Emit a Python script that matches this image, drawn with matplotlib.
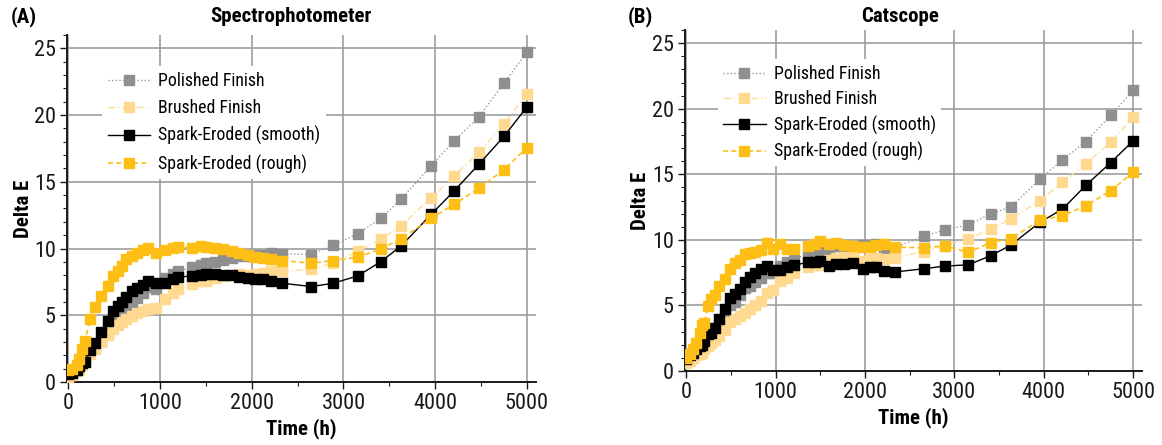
import matplotlib
matplotlib.use("Agg")
import matplotlib.pyplot as plt
from matplotlib.ticker import MultipleLocator

plt.rcParams['font.family'] = ['Roboto Condensed', 'Archivo Narrow', 'DejaVu Sans']

# ---- Spectrophotometer readings ----
time_a = [0, 40, 90, 120, 150, 180, 240, 285, 355, 430,
          490, 540, 580, 630, 690, 750, 810, 870, 950, 1050,
          1140, 1200, 1350, 1445, 1505, 1600, 1690, 1785, 1865, 1960,
          2040, 2120, 2205, 2330, 2650, 2890, 3155, 3405, 3630, 3955,
          4205, 4475, 4750, 5000]
polished_a = [0.6, 0.7, 0.9, 1.25, 1.5, 1.75, 2.4, 2.6, 3.1, 3.7,
              4.35, 4.9, 5.2, 5.6, 5.95, 6.3, 6.7, 7.1, 7.0, 7.8,
              8.1, 8.3, 8.6, 8.8, 8.95, 9.0, 9.15, 9.3, 9.45, 9.45,
              9.5, 9.55, 9.7, 9.6, 9.55, 10.25, 11.1, 12.25, 13.7, 16.2,
              18.05, 19.85, 22.4, 24.7]
brushed_a = [0.4, 0.5, 0.8, 1.0, 1.3, 1.6, 2.1, 2.5, 3.0, 3.55,
             3.95, 4.3, 4.5, 4.75, 4.95, 5.15, 5.3, 5.45, 5.55, 6.2,
             6.65, 6.95, 7.35, 7.6, 7.6, 7.8, 7.95, 8.05, 8.1, 8.0,
             8.1, 8.2, 8.3, 8.3, 8.45, 8.95, 9.8, 10.7, 11.7, 13.8,
             15.4, 17.2, 19.3, 21.6]
smooth_a = [0.6, 0.7, 0.9, 1.2, 1.4, 1.5, 2.4, 2.95, 3.75, 4.6,
            5.35, 5.7, 6.0, 6.4, 6.8, 7.05, 7.3, 7.6, 7.4, 7.45,
            7.7, 7.85, 7.95, 8.05, 8.1, 8.1, 8.05, 8.0, 7.9, 7.8,
            7.75, 7.7, 7.55, 7.4, 7.15, 7.4, 7.95, 9.0, 10.2, 12.55,
            14.3, 16.3, 18.4, 20.6]
rough_a = [0.9, 1.0, 1.3, 1.7, 2.5, 3.1, 4.75, 5.6, 6.45, 7.2,
           7.95, 8.3, 8.7, 9.2, 9.45, 9.7, 9.9, 10.05, 9.65, 9.9,
           10.05, 10.1, 10.05, 10.2, 10.15, 10.05, 9.95, 9.8, 9.7, 9.5,
           9.4, 9.3, 9.2, 9.1, 8.9, 9.1, 9.35, 9.95, 10.75, 12.25,
           13.3, 14.5, 15.9, 17.55]

# ---- Catscope readings ----
time_b = [0, 40, 75, 110, 150, 170, 200, 245, 280, 320,
          360, 430, 490, 545, 600, 655, 710, 770, 835, 900,
          965, 1050, 1130, 1200, 1360, 1440, 1500, 1600, 1670, 1765,
          1870, 1980, 2050, 2120, 2210, 2330, 2660, 2890, 3155, 3410,
          3630, 3960, 4210, 4470, 4750, 5000]
polished_b = [0.9, 1.1, 1.4, 1.8, 1.9, 2.0, 2.3, 2.6, 3.0, 3.1,
              3.5, 4.3, 5.0, 5.3, 5.8, 6.3, 6.5, 6.8, 7.1, 7.5,
              7.45, 8.0, 8.3, 8.5, 8.95, 9.2, 9.1, 9.2, 9.55, 9.35,
              9.3, 9.6, 9.55, 9.65, 9.25, 9.4, 10.3, 10.75, 11.15, 12.0,
              12.5, 14.65, 16.1, 17.5, 19.5, 21.4]
brushed_b = [0.6, 0.8, 1.0, 1.2, 1.3, 1.4, 1.7, 1.9, 2.15, 2.4,
             2.65, 3.15, 3.7, 3.95, 4.2, 4.45, 4.75, 5.05, 5.35, 5.95,
             6.2, 6.9, 7.1, 7.45, 7.9, 8.1, 8.05, 8.45, 8.65, 8.7,
             8.8, 8.4, 8.55, 8.65, 8.55, 8.65, 9.1, 9.55, 10.1, 10.8,
             11.6, 13.0, 14.4, 15.8, 17.45, 19.35]
smooth_b = [0.9, 1.2, 1.4, 1.7, 1.9, 2.0, 2.3, 2.8, 2.9, 3.3,
            4.0, 4.75, 5.6, 5.9, 6.25, 6.8, 7.2, 7.45, 7.75, 8.0,
            7.7, 7.7, 7.95, 8.05, 8.3, 8.35, 8.4, 8.0, 8.15, 8.15,
            8.25, 7.8, 7.95, 7.95, 7.6, 7.55, 7.8, 8.0, 8.1, 8.8,
            9.6, 11.35, 12.35, 14.15, 15.9, 17.55]
rough_b = [1.0, 1.3, 1.65, 2.1, 2.9, 3.5, 3.65, 4.95, 5.5, 5.8,
           6.5, 7.05, 7.8, 8.25, 8.5, 8.9, 9.0, 9.1, 9.2, 9.8,
           9.3, 9.7, 9.3, 9.3, 9.55, 9.65, 9.9, 9.7, 9.75, 9.6,
           9.55, 9.45, 9.45, 9.6, 9.65, 9.45, 9.4, 9.55, 9.05, 9.8,
           10.1, 11.5, 11.85, 12.6, 13.75, 15.15]

series_names = ["Polished Finish", "Brushed Finish",
                "Spark-Eroded (smooth)", "Spark-Eroded (rough)"]
series_styles = [
    dict(color="#9a9a9a", mfc="#8f8f8f", mec="#8f8f8f", ls=(0, (1, 1.6)), lw=1.0),
    dict(color="#ffdc98", mfc="#ffd98f", mec="#ffd98f", ls=(0, (5, 2, 1, 2)), lw=1.0),
    dict(color="#000000", mfc="#000000", mec="#000000", ls="-", lw=1.0),
    dict(color="#fdbf16", mfc="#fdbf16", mec="#fdbf16", ls=(0, (3, 2)), lw=1.2),
]

fig = plt.figure(figsize=(11.62, 4.45), dpi=100)
ax_a = fig.add_axes([0.0577, 0.1416, 0.4036, 0.7798])
ax_b = fig.add_axes([0.5895, 0.1663, 0.3933, 0.7660])

panels = [
    (ax_a, time_a, [polished_a, brushed_a, smooth_a, rough_a], (0.056, 0.935), 0.52),
    (ax_b, time_b, [polished_b, brushed_b, smooth_b, rough_b], (0.052, 0.94), 0.41),
]

for ax, t, ys, leg_anchor, spacing in panels:
    for name, y, st in zip(series_names, ys, series_styles):
        ax.plot(t, y, marker="s", markersize=6.5, label=name,
                color=st["color"], markerfacecolor=st["mfc"],
                markeredgecolor=st["mec"], linestyle=st["ls"],
                linewidth=st["lw"], zorder=3)
    ax.set_xlim(-15, 5100)
    ax.set_ylim(0, 26)
    ax.xaxis.set_major_locator(MultipleLocator(1000))
    ax.xaxis.set_minor_locator(MultipleLocator(500))
    ax.yaxis.set_major_locator(MultipleLocator(5))
    ax.yaxis.set_minor_locator(MultipleLocator(1))
    ax.grid(True, which="major", color="#9d9d9d", linewidth=1.2, zorder=0)
    ax.set_axisbelow(True)
    for s in ("top", "right"):
        ax.spines[s].set_visible(False)
    for s in ("left", "bottom"):
        ax.spines[s].set_linewidth(1.4)
        ax.spines[s].set_color("#1a1a1a")
    ax.tick_params(axis="both", which="major", direction="out", length=5,
                   width=1.0, labelsize=16, colors="#1a1a1a", pad=3)
    ax.tick_params(axis="both", which="minor", direction="out", length=3,
                   width=0.8, colors="#1a1a1a")
    ax.set_xlabel("Time (h)", fontsize=15, fontweight="bold", labelpad=3)
    ax.set_ylabel("Delta E", fontsize=15, fontweight="bold", labelpad=1)
    leg = ax.legend(loc="upper left", bbox_to_anchor=leg_anchor,
                    frameon=True, fontsize=12.8, handlelength=2.4,
                    handletextpad=0.45, labelspacing=spacing, borderpad=0.3)
    leg.get_frame().set_edgecolor("none")
    leg.get_frame().set_facecolor("white")
    leg.get_frame().set_alpha(1.0)

fig.text(0.009, 0.962, "(A)", fontsize=15, fontweight="bold", va="center")
fig.text(0.250, 0.962, "Spectrophotometer", fontsize=15, fontweight="bold",
         ha="center", va="center")
fig.text(0.540, 0.962, "(B)", fontsize=15, fontweight="bold", va="center")
fig.text(0.775, 0.962, "Catscope", fontsize=15, fontweight="bold",
         ha="center", va="center")

fig.savefig("out.png", dpi=100)
